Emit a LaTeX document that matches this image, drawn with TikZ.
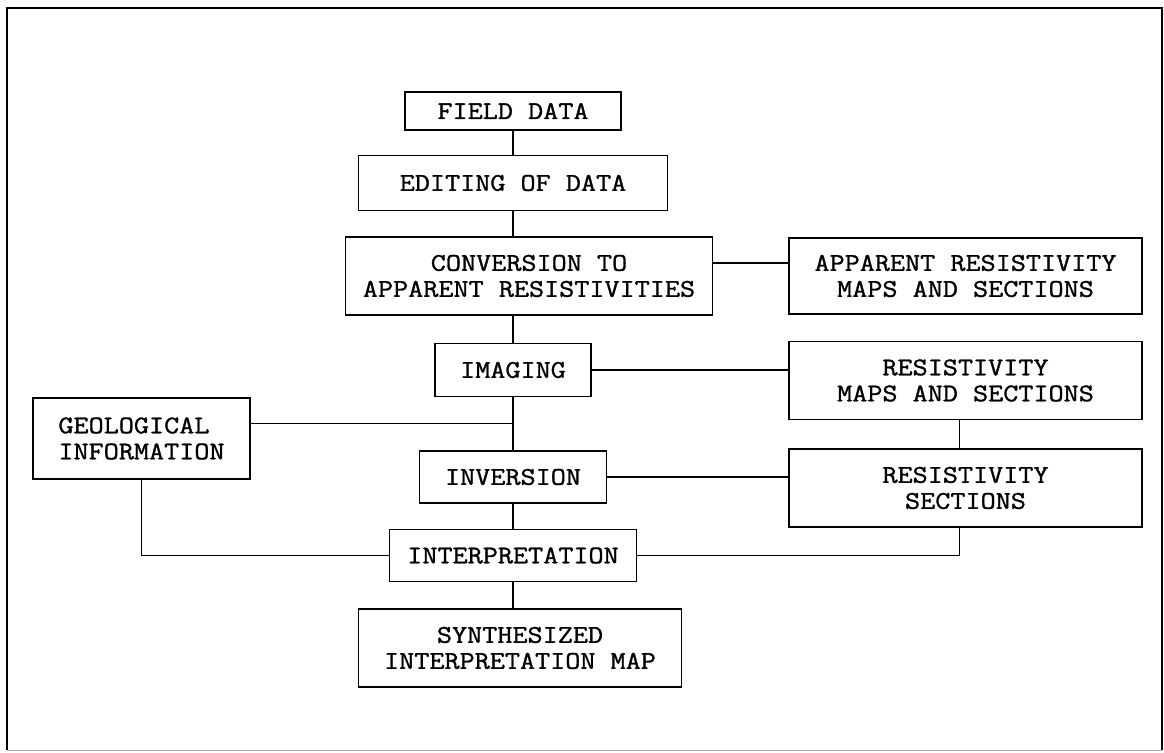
\documentclass[tikz,border=0pt]{standalone}
\usepackage{fontspec}
\usepackage{xcolor}
\usepackage{tikz}
\usetikzlibrary{
  positioning,
  calc
}
\newfontfamily\flowfont{Latin Modern Mono}[FakeStretch=1.15, FakeBold=1.2]
\newcommand{\boxfont}{\flowfont\fontsize{25.5pt}{26pt}\selectfont}
\definecolor{framegray}{RGB}{170, 170, 170}
\tikzset{
  procbox/.style = {
    rectangle, draw=black, line width=1.5pt,
    minimum width=#1, minimum height=52pt, inner sep=0pt,
    align=center, font=\boxfont
  },
  procbox/.default = 200pt,
  twobox/.style = {
    procbox=#1, minimum height=78pt
  },
  twobox/.default = 353pt,
  link/.style  = {draw=black, line width=1.4pt},
  frameline/.style = {draw=black, line width=2.4pt},
}
\begin{document}
\begin{tikzpicture}[x=1pt, y=1pt]

  \useasboundingbox (0,0) rectangle (1164,752);
  \draw[frameline] (7,2) |- (1162,744) -- (1162,2);
  \draw[draw=framegray, line width=0.8pt] (7,2) -- (1162,2);

  % main column
  \node[procbox=216pt, minimum height=38pt] (field) at (513,641)
    {FIELD DATA};
  \node[procbox=309pt, minimum height=55pt, below=24pt of field] (edit)
    {EDITING OF DATA};
  \node[twobox=367pt, below=25pt of edit, xshift=16pt] (conv)
    {CONVERSION TO\\APPARENT RESISTIVITIES};
  \node[procbox=156pt, minimum height=53pt, below=27pt of conv,
        xshift=-16pt] (img) {IMAGING};
  \node[procbox=187pt, below=53pt of img] (inv) {INVERSION};
  \node[procbox=247pt, below=25pt of inv] (interp) {INTERPRETATION};
  \node[twobox=323pt, below=26pt of interp, xshift=7pt] (synth)
    {SYNTHESIZED\\INTERPRETATION MAP};

  % products (right)
  \node[twobox, minimum height=76pt, right=75pt of conv] (arms)
    {APPARENT RESISTIVITY\\MAPS AND SECTIONS};
  \node[twobox, below=26pt of arms] (rms)
    {RESISTIVITY\\MAPS AND SECTIONS};
  \node[twobox, below=28pt of rms] (rs)
    {RESISTIVITY\\SECTIONS};

  % geology (left)
  \node[twobox=217pt, minimum height=81pt, align=left,
        left=168pt of inv, yshift=38.5pt] (geo)
    {GEOLOGICAL\\INFORMATION};

  \coordinate (geojoin) at ($(img.south)!0.5!(inv.north)$);

  %% Links
  \draw[link] (field) -- (edit);
  \draw[link] (edit) -- (edit |- conv.north);
  \draw[link] (img |- conv.south) -- (img) -- (inv) -- (interp);
  \draw[link] (interp) -- (interp |- synth.north);
  \draw[link] ([yshift=13pt]conv.east) -- ([yshift=13pt]conv.east -| arms.west);
  \draw[link] (img.east) -- (img.east -| rms.west);
  \draw[link] (inv.east) -- (inv.east -| rs.west);
  \draw[link] ([xshift=-6pt]rms.south) -- ([xshift=-6pt]rms.south |- rs.north);
  \draw[link] ([xshift=-6pt]rs.south) |- (interp.east);
  \draw[link] (geo.east |- geojoin) -- (geojoin);
  \draw[link] (geo.south) |- (interp.west);

\end{tikzpicture}
\end{document}
